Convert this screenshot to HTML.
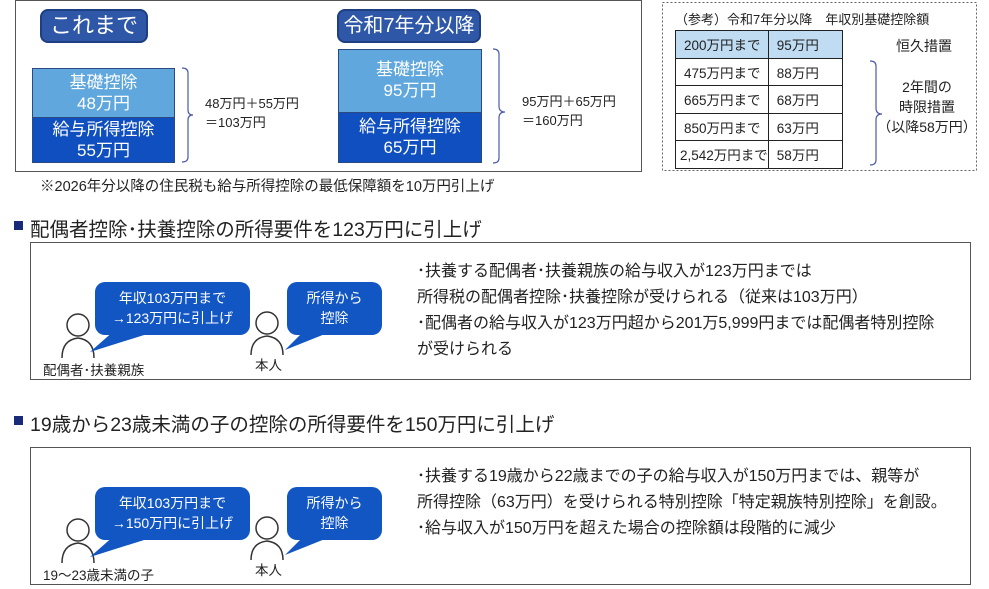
<!DOCTYPE html>
<html><head><meta charset="utf-8"><style>
*{margin:0;padding:0;box-sizing:border-box}
body{width:989px;height:589px;background:#fff;position:relative;overflow:hidden;font-family:"Liberation Sans","Noto Sans CJK JP",sans-serif;color:#222}
.a{position:absolute;white-space:nowrap}
.badge{background:#2f57a8;border:2px solid #1e3f80;border-radius:8px;color:#fff;font-size:20px;text-align:center;line-height:30px}
.lb{background:#5fa7dc;color:#fff;text-align:center;font-size:17px;line-height:21px;border:1px solid #2a4a80}
.db{background:#0f4fbf;color:#fff;text-align:center;font-size:17px;line-height:21px;border:1px solid #2a4a80}
.sm{font-size:13px;line-height:19px}
.bub{background:#1256c4;color:#fff;border-radius:10px;text-align:center;font-size:14px;line-height:20px;padding-top:6px}
.txt{font-size:16px;line-height:26px;letter-spacing:0}
table{border-collapse:collapse;font-size:13.5px}
td{border:1.5px solid #222;height:27.5px;padding-left:8px}
</style></head><body>
<div class="a" style="left:15px;top:0;width:627px;height:172px;border:1px solid #555"></div>
<div class="a badge" style="left:40px;top:9px;width:108px;height:34px;font-size:22px">これまで</div>
<div class="a badge" style="left:337px;top:9px;width:144px;height:34px">令和7年分以降</div>
<div class="a lb" style="left:32px;top:68px;width:143px;height:50px;padding-top:3px">基礎控除<br>48万円</div>
<div class="a db" style="left:32px;top:117px;width:143px;height:46px;padding-top:1px">給与所得控除<br>55万円</div>
<div class="a lb" style="left:338px;top:49px;width:144px;height:64px;padding-top:9px">基礎控除<br>95万円</div>
<div class="a db" style="left:338px;top:112px;width:144px;height:51px;padding-top:3px">給与所得控除<br>65万円</div>
<svg class="a" style="left:0;top:0" width="989" height="589">
<g fill="none" stroke="#4a5aa8" stroke-width="1.2">
<path d="M182 68 q6 0 6 5 v37 q0 5 5 5 q-5 0 -5 5 v37 q0 5 -6 5"/>
<path d="M493 49 q6 0 6 5 v52 q0 6 6 6 q-6 0 -6 6 v40 q0 5 -6 5"/>
<path d="M870 61 q6 0 6 5 v42 q0 6 6 6 q-6 0 -6 6 v40 q0 5 -6 5"/>
</g>
<rect x="662.5" y="2.5" width="314" height="168" fill="none" stroke="#666" stroke-dasharray="2,2"/>
<rect x="14" y="221" width="9" height="9" fill="#1a2a7a"/>
<rect x="14" y="416" width="9" height="9" fill="#1a2a7a"/>
<g fill="none" stroke="#333" stroke-width="1.5">
<circle cx="78" cy="325" r="11"/><path d="M62 358 q0-18 16-20 q16 2 16 20"/>
<circle cx="267" cy="323" r="11"/><path d="M251 355 q0-17 16-19 q16 2 16 19"/>
<circle cx="78" cy="530" r="11"/><path d="M62 563 q0-18 16-20 q16 2 16 20"/>
<circle cx="267" cy="528" r="11"/><path d="M251 560 q0-17 16-19 q16 2 16 19"/>
</g>
<g fill="#1256c4">
<path d="M115 330 L160 330 L90 352 Z"/><path d="M305 330 L335 330 L285 350 Z"/>
<path d="M115 535 L160 535 L90 557 Z"/><path d="M305 535 L335 535 L285 555 Z"/>
</g>
</svg>
<div class="a sm" style="left:205px;top:94px">48万円＋55万円<br>＝103万円</div>
<div class="a sm" style="left:522px;top:92px">95万円＋65万円<br>＝160万円</div>
<div class="a" style="left:40px;top:175px;font-size:14.5px">※2026年分以降の住民税も給与所得控除の最低保障額を10万円引上げ</div>
<div class="a" style="left:675px;top:9px;font-size:13px">（参考）令和7年分以降　年収別基礎控除額</div>
<table class="a" style="left:675px;top:30px;width:168px">
<tr style="background:#bfdcf3"><td style="width:83px">200万円まで</td><td>95万円</td></tr>
<tr><td>475万円まで</td><td>88万円</td></tr>
<tr><td>665万円まで</td><td>68万円</td></tr>
<tr><td>850万円まで</td><td>63万円</td></tr>
<tr><td style="padding-left:4px">2,542万円まで</td><td>58万円</td></tr>
</table>
<div class="a" style="left:896px;top:36px;font-size:14px">恒久措置</div>
<div class="a" style="left:876px;top:77px;width:102px;text-align:center;font-size:14px;line-height:20px">2年間の<br>時限措置<br>（以降58万円）</div>
<div class="a" style="left:30px;top:213px;font-size:19.5px">配偶者控除･扶養控除の所得要件を123万円に引上げ</div>
<div class="a" style="left:30px;top:408px;font-size:19.5px">19歳から23歳未満の子の控除の所得要件を150万円に引上げ</div>
<div class="a" style="left:30px;top:242px;width:941px;height:138px;border:1px solid #555"></div>
<div class="a" style="left:30px;top:447px;width:941px;height:138px;border:1px solid #555"></div>
<div class="a bub" style="left:95px;top:282px;width:155px;height:53px">年収103万円まで<br>→123万円に引上げ</div>
<div class="a bub" style="left:287px;top:282px;width:95px;height:53px">所得から<br>控除</div>
<div class="a bub" style="left:95px;top:487px;width:155px;height:53px">年収103万円まで<br>→150万円に引上げ</div>
<div class="a bub" style="left:287px;top:487px;width:95px;height:53px">所得から<br>控除</div>
<div class="a" style="left:43px;top:359px;font-size:13.5px">配偶者･扶養親族</div>
<div class="a" style="left:255px;top:354px;font-size:13.5px">本人</div>
<div class="a" style="left:43px;top:564px;font-size:13.5px">19～23歳未満の子</div>
<div class="a" style="left:255px;top:559px;font-size:13.5px">本人</div>
<div class="a txt" style="left:417px;top:259px">･扶養する配偶者･扶養親族の給与収入が123万円までは<br>所得税の配偶者控除･扶養控除が受けられる（従来は103万円）<br>･配偶者の給与収入が123万円超から201万5,999円までは配偶者特別控除<br>が受けられる</div>
<div class="a txt" style="left:417px;top:464px">･扶養する19歳から22歳までの子の給与収入が150万円までは、親等が<br>所得控除（63万円）を受けられる特別控除「特定親族特別控除」を創設。<br>･給与収入が150万円を超えた場合の控除額は段階的に減少</div>
</body></html>
